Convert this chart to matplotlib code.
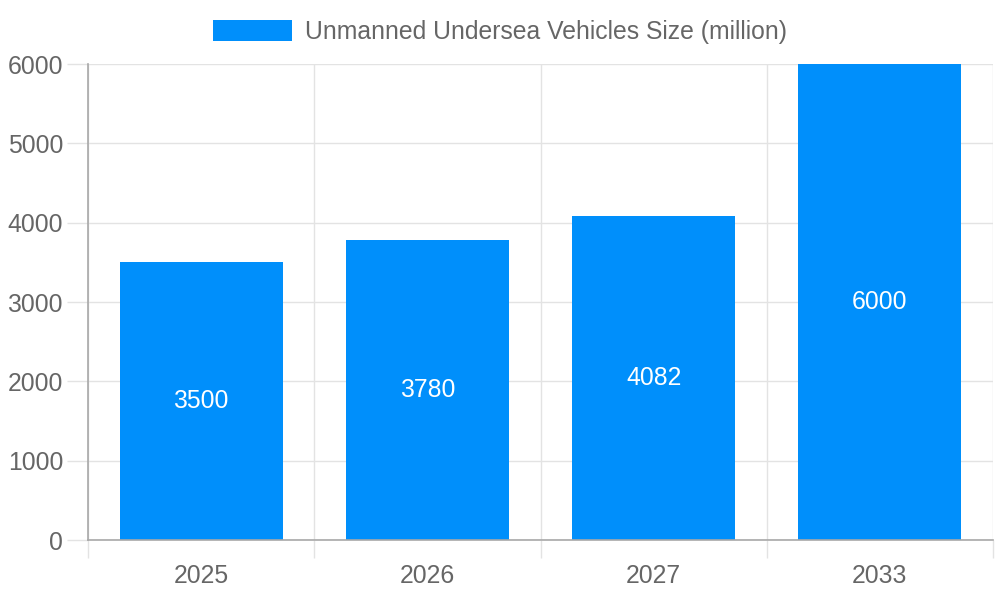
import matplotlib
matplotlib.use("Agg")
import matplotlib.pyplot as plt
from matplotlib.ticker import FixedLocator

categories = ["2025", "2026", "2027", "2033"]
values = [3500, 3780, 4082, 6000]
yticks = [0, 1000, 2000, 3000, 4000, 5000, 6000]
series_name = "Unmanned Undersea Vehicles Size (million)"

BAR = "#008ffb"
TXT = "#666666"
GRID = "#e3e3e3"
AXIS = "#a8a8a8"
FS = 17.8

plt.rcParams['font.family'] = ['Liberation Sans', 'DejaVu Sans']

fig = plt.figure(figsize=(10, 6), dpi=100)
ax = fig.add_axes([0.088, 0.1, 0.905, 0.7933])

x = list(range(len(categories)))
bars = ax.bar(x, values, width=0.72, color=BAR, label=series_name, zorder=3)

for xi, v in zip(x, values):
    ax.text(xi, v / 2, f"{v}", ha="center", va="center", color="white",
            fontsize=FS, zorder=4)

ax.set_xlim(-0.5, len(categories) - 0.5)
ax.set_ylim(0, 6000)
ax.set_yticks(yticks)
ax.set_yticklabels([str(t) for t in yticks])
ax.set_xticks(x)
ax.set_xticklabels(categories)
ax.xaxis.set_minor_locator(FixedLocator([i - 0.5 for i in range(len(categories) + 1)]))

ax.tick_params(axis="y", length=15, width=1, color=GRID, pad=3, labelsize=FS, labelcolor=TXT)
ax.tick_params(axis="x", which="major", length=0, pad=17, labelsize=FS, labelcolor=TXT)
ax.tick_params(axis="x", which="minor", length=13, width=1, color=GRID)

ax.grid(True, axis="y", which="major", color=GRID, linewidth=1, zorder=0)
ax.grid(True, axis="x", which="minor", color=GRID, linewidth=1, zorder=0)
ax.grid(False, axis="x", which="major")

for s in ["top", "right"]:
    ax.spines[s].set_visible(False)
for s in ["left", "bottom"]:
    ax.spines[s].set_color(AXIS)
    ax.spines[s].set_linewidth(1.2)
    ax.spines[s].set_zorder(5)

leg = ax.legend(loc="center", bbox_to_anchor=(0.5, 0.946), bbox_transform=fig.transFigure,
                frameon=False, fontsize=FS, labelcolor=TXT, handlelength=3.2,
                handleheight=0.93, handletextpad=0.52, borderpad=0)

fig.savefig("out.png", dpi=100)
